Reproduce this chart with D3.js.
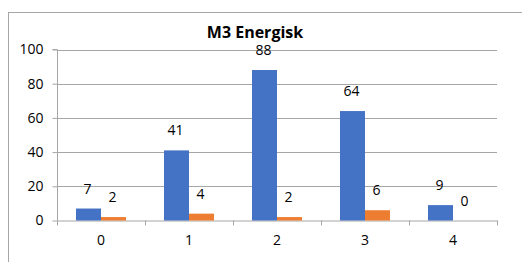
<!DOCTYPE html>
<html><head><meta charset="utf-8">
<script src="https://cdn.jsdelivr.net/npm/d3@7"></script>
<style>body{margin:0;background:#fff;}svg{display:block;font-family:"Open Sans","Noto Sans",sans-serif;}</style>
</head><body>
<svg id="c" width="522" height="262"></svg>
<script>
const categories = ["0","1","2","3","4"];
const series1 = [7,41,88,64,9];
const series2 = [2,4,2,6,0];
const yTicks = [0,20,40,60,80,100];
const title = "M3 Energisk";
const colors = ["#4472C4","#ED7D31"];
const FONT = "'Open Sans','Noto Sans',sans-serif";

const svg = d3.select("#c");
svg.append("rect").attr("x",8.5).attr("y",12.5).attr("width",530).attr("height",270)
  .attr("fill","none").attr("stroke","#a6a6a6").attr("stroke-width",1);

const m = {l:57, r:497, t:49.5, b:220.5};
const x = d3.scaleBand().domain(categories).range([m.l,m.r]);
const y = d3.scaleLinear().domain([0,100]).range([m.b,m.t]);
const inner = d3.scaleBand().domain([0,1]).range([0,50]);
const barOffset = (x.bandwidth()-50)/2;

svg.append("g").selectAll("line").data(yTicks.filter(d=>d>0)).join("line")
  .attr("x1",m.l).attr("x2",m.r).attr("y1",d=>Math.round(y(d))+0.5).attr("y2",d=>Math.round(y(d))+0.5)
  .attr("stroke","#a6a6a6").attr("stroke-width",1);

const ya = svg.append("g").attr("transform",`translate(${m.l+0.5},0)`)
  .call(d3.axisLeft(y).tickValues(yTicks).tickSize(5).tickPadding(9));
ya.select(".domain").attr("stroke","#a6a6a6").attr("d",`M-5,${m.t}H0V${m.b}`);
ya.selectAll(".tick line").attr("stroke","#a6a6a6");
ya.selectAll(".tick text").attr("font-size",14).attr("fill","#000").attr("font-family",FONT);

const xa = svg.append("g").attr("transform",`translate(0,${m.b})`)
  .call(d3.axisBottom(x).tickSize(0).tickPadding(15));
xa.select(".domain").attr("stroke","#a6a6a6");
xa.selectAll(".tick text").attr("font-size",14).attr("fill","#000").attr("font-family",FONT);
svg.append("g").selectAll("line").data(d3.range(categories.length+1)).join("line")
  .attr("x1",i=>Math.round(m.l+i*x.step())+0.5).attr("x2",i=>Math.round(m.l+i*x.step())+0.5)
  .attr("y1",m.b).attr("y2",m.b+5).attr("stroke","#a6a6a6");

const data = categories.map((c,i)=>({c, vals:[series1[i],series2[i]]}));
const g = svg.append("g").selectAll("g").data(data).join("g")
  .attr("transform",d=>`translate(${x(d.c)+barOffset},0)`);
g.selectAll("rect").data(d=>d.vals.map((v,k)=>({v,k}))).join("rect")
  .attr("x",d=>inner(d.k)).attr("width",inner.bandwidth())
  .attr("y",d=>y(d.v)).attr("height",d=>m.b-y(d.v)).attr("fill",d=>colors[d.k]);
g.selectAll("text").data(d=>d.vals.map((v,k)=>({v,k}))).join("text")
  .attr("x",d=>inner(d.k)+inner.bandwidth()/2-1).attr("y",d=>y(d.v)-15)
  .attr("text-anchor","middle").attr("font-size",14).attr("fill","#000").attr("font-family",FONT).text(d=>d.v);

svg.append("text").attr("x",255).attr("y",38).attr("text-anchor","middle")
  .attr("font-size",16).attr("font-weight","bold").attr("fill","#000").attr("font-family",FONT).text(title);
</script>
</body></html>
